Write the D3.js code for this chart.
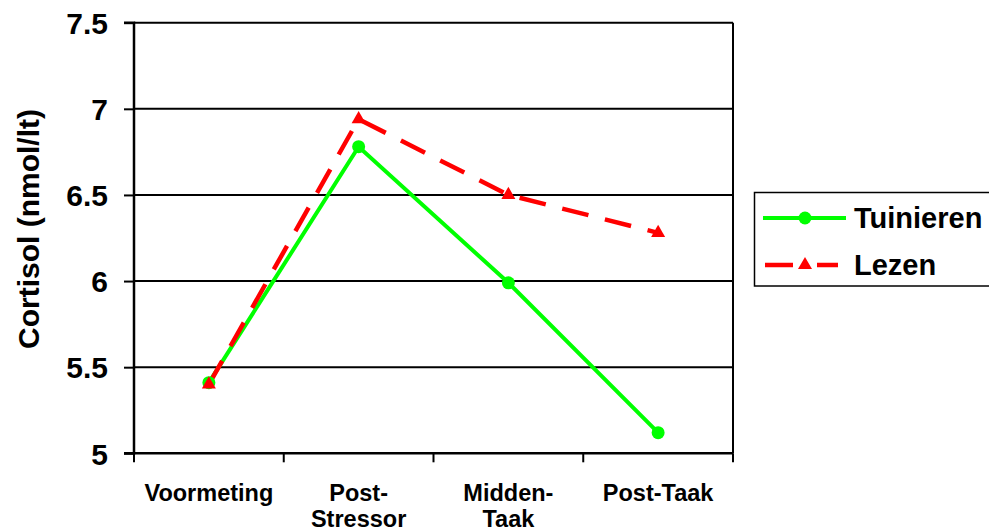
<!DOCTYPE html>
<html><head><meta charset="utf-8">
<script src="https://cdn.jsdelivr.net/npm/d3@7"></script>
<style>body{margin:0;background:#fff}svg{display:block}</style>
</head><body>
<script>
const categories = [["Voormeting"], ["Post-", "Stressor"], ["Midden-", "Taak"], ["Post-Taak"]];
const tuinieren = [5.41, 6.78, 5.99, 5.12];
const lezen = [5.40, 6.94, 6.50, 6.28];
const yTicks = [5, 5.5, 6, 6.5, 7, 7.5];
const yTickLabels = ["5", "5.5", "6", "6.5", "7", "7.5"];
const seriesNames = ["Tuinieren", "Lezen"];

const W = 989, H = 530;
const svg = d3.select("body").append("svg").attr("width", W).attr("height", H);
const font = "'Liberation Sans', Arial, sans-serif";
const L = 134, R = 733, T = 22.7, B = 453.3;

const x = d3.scaleBand().domain(d3.range(categories.length)).range([L, R]).padding(0);
const y = d3.scaleLinear().domain([5, 7.5]).range([B, T]);

// gridlines
svg.append("g").selectAll("line").data(yTicks.filter(d => d > 5)).join("line")
  .attr("x1", L).attr("x2", R).attr("y1", d => y(d)).attr("y2", d => y(d))
  .attr("stroke", "#000").attr("stroke-width", 2);
// right border
svg.append("line").attr("x1", R).attr("x2", R).attr("y1", T).attr("y2", B)
  .attr("stroke", "#000").attr("stroke-width", 2);

// y axis
const yAxis = d3.axisLeft(y).tickValues(yTicks).tickFormat((d, i) => yTickLabels[i]).tickSize(10).tickPadding(16);
const gy = svg.append("g").attr("transform", `translate(${L},0)`).call(yAxis);
gy.select(".domain").attr("stroke", "#000").attr("stroke-width", 2.5).attr("d", `M-10,${T}H0V${B}H-10`);
gy.selectAll(".tick line").attr("stroke", "#000").attr("stroke-width", 2);
gy.selectAll("text").attr("font-family", font).attr("font-weight", "bold").attr("font-size", 30).attr("fill", "#000").attr("dy", "0.36em");

// x axis
const xAxis = d3.axisBottom(x).tickSize(0).tickFormat("");
const gx = svg.append("g").attr("transform", `translate(0,${B})`).call(xAxis);
gx.select(".domain").attr("stroke", "#000").attr("stroke-width", 2.5).attr("d", `M${L},0H${R}`);
// category boundary ticks
const bounds = d3.range(categories.length + 1).map(i => i < categories.length ? x(i) : x(i - 1) + x.bandwidth());
gx.selectAll(".btick").data(bounds).join("line").attr("class", "btick")
  .attr("x1", d => d).attr("x2", d => d).attr("y1", 0).attr("y2", 9)
  .attr("stroke", "#000").attr("stroke-width", 2);
// category labels
categories.forEach((lines, i) => {
  const t = svg.append("text").attr("x", x(i) + x.bandwidth() / 2).attr("y", 500.5)
    .attr("text-anchor", "middle").attr("font-family", font).attr("font-weight", "bold")
    .attr("font-size", 23.5).attr("fill", "#000");
  lines.forEach((s, j) => t.append("tspan").attr("x", x(i) + x.bandwidth() / 2).attr("dy", j === 0 ? 0 : 26).text(s));
});

// y title
svg.append("text").attr("transform", "translate(39,229) rotate(-90)")
  .attr("text-anchor", "middle").attr("font-family", font).attr("font-weight", "bold")
  .attr("font-size", 30).attr("fill", "#000").text("Cortisol (nmol/lt)");

const cx = i => x(i) + x.bandwidth() / 2;
const line = d3.line().x((d, i) => cx(i)).y(d => y(d));

// Tuinieren
svg.append("path").attr("d", line(tuinieren)).attr("fill", "none").attr("stroke", "#00ff00").attr("stroke-width", 4);
// Lezen
svg.append("path").attr("d", line(lezen)).attr("fill", "none").attr("stroke", "#ff0000").attr("stroke-width", 4.5)
  .attr("stroke-dasharray", "27,17");

svg.append("g").selectAll("circle").data(tuinieren).join("circle")
  .attr("cx", (d, i) => cx(i)).attr("cy", d => y(d)).attr("r", 6.5).attr("fill", "#00ff00");
const tri = d3.symbol().type(d3.symbolTriangle).size(85);
svg.append("g").selectAll("path").data(lezen).join("path")
  .attr("transform", (d, i) => `translate(${cx(i)},${y(d)})`).attr("d", tri).attr("fill", "#ff0000");

// legend
const lg = svg.append("g");
lg.append("rect").attr("x", 754.5).attr("y", 192.5).attr("width", 260).attr("height", 93.5)
  .attr("fill", "#fff").attr("stroke", "#000").attr("stroke-width", 1.5);
const ly = [218, 265];
lg.append("line").attr("x1", 763).attr("x2", 846).attr("y1", ly[0]).attr("y2", ly[0]).attr("stroke", "#00ff00").attr("stroke-width", 4);
lg.append("circle").attr("cx", 805).attr("cy", ly[0]).attr("r", 6.5).attr("fill", "#00ff00");
lg.append("line").attr("x1", 765).attr("x2", 838).attr("y1", ly[1]).attr("y2", ly[1]).attr("stroke", "#ff0000").attr("stroke-width", 4.5).attr("stroke-dasharray", "28,24");
lg.append("path").attr("transform", `translate(805,${ly[1]})`).attr("d", tri).attr("fill", "#ff0000");
seriesNames.forEach((n, i) => {
  lg.append("text").attr("x", 854).attr("y", ly[i]).attr("dy", "0.36em")
    .attr("font-family", font).attr("font-weight", "bold").attr("font-size", 29).attr("fill", "#000").text(n);
});
</script>
</body></html>
